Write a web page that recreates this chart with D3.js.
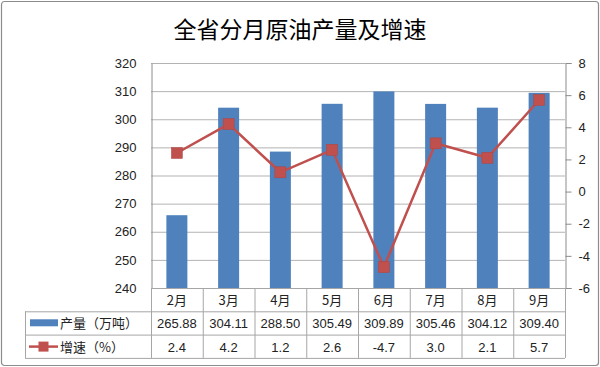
<!DOCTYPE html>
<html><head><meta charset="utf-8">
<script src="https://cdn.jsdelivr.net/npm/d3@7"></script>
<style>body{margin:0;background:#fff;font-family:"Noto Sans CJK SC","DejaVu Sans",sans-serif;}</style>
</head><body><svg id="c" width="600" height="367"></svg>
<script>
const categories = ["2月","3月","4月","5月","6月","7月","8月","9月"];
const output = [265.88,304.11,288.50,305.49,309.89,305.46,304.12,309.40];
const outputLabels = ["265.88","304.11","288.50","305.49","309.89","305.46","304.12","309.40"];
const growth = [2.4,4.2,1.2,2.6,-4.7,3.0,2.1,5.7];
const growthLabels = ["2.4","4.2","1.2","2.6","-4.7","3.0","2.1","5.7"];
const leftTicks = [240,250,260,270,280,290,300,310,320];
const rightTicks = [-6,-4,-2,0,2,4,6,8];
const title = "全省分月原油产量及增速";
const seriesNames = ["产量（万吨）","增速（%）"];

const svg = d3.select("#c");
const blue = "#4F81BD", red = "#C0504D";
const L = 151, R = 565, T = 63, B = 288;
const tableLeft = 25, rowH = 23.3;

svg.append("rect").attr("x",1.5).attr("y",1.5).attr("width",597).attr("height",364)
  .attr("rx",3).attr("fill","#fff").attr("stroke","#8c8c8c").attr("stroke-width",1.2);

svg.append("text").attr("x",300).attr("y",38).attr("text-anchor","middle")
  .attr("font-size",23).attr("fill","#000").text(title);

const x = d3.scaleBand().domain(categories).range([L,R]);
const yL = d3.scaleLinear().domain([240,320]).range([B,T]);
const yR = d3.scaleLinear().domain([-6,8]).range([B,T]);

// gridlines
svg.append("g").selectAll("line").data(leftTicks).join("line")
  .attr("x1",L).attr("x2",R).attr("y1",d=>yL(d)+0.5).attr("y2",d=>yL(d)+0.5)
  .attr("stroke","#b3b3b3").attr("stroke-width",1);

// left axis
const gl = svg.append("g").attr("transform",`translate(${L+0.5},0)`)
  .call(d3.axisLeft(yL).tickValues(leftTicks).tickSize(0).tickPadding(15));
gl.select(".domain").attr("stroke","#8c8c8c");
gl.selectAll("text").attr("font-size",13).attr("fill","#222").attr("font-family","Liberation Sans, Arial, sans-serif");

// right axis
const gr = svg.append("g").attr("transform",`translate(${R+0.5},0)`)
  .call(d3.axisRight(yR).tickValues(rightTicks).tickFormat(d=>String(d)).tickSize(6).tickPadding(7));
gr.select(".domain").attr("stroke","#8c8c8c");
gr.selectAll(".tick line").attr("stroke","#8c8c8c");
gr.selectAll("text").attr("font-size",13).attr("fill","#222").attr("font-family","Liberation Sans, Arial, sans-serif");

// bars
const bw = 21;
svg.append("g").selectAll("rect").data(output).join("rect")
  .attr("x",(d,i)=>x(categories[i])+x.bandwidth()/2-bw/2)
  .attr("width",bw).attr("y",d=>yL(d)).attr("height",d=>B-yL(d))
  .attr("fill",blue);

// line
const line = d3.line().x((d,i)=>x(categories[i])+x.bandwidth()/2).y(d=>yR(d));
svg.append("path").datum(growth).attr("d",line).attr("fill","none")
  .attr("stroke",red).attr("stroke-width",2.5);
svg.append("g").selectAll("rect").data(growth).join("rect")
  .attr("x",(d,i)=>x(categories[i])+x.bandwidth()/2-5.5).attr("y",d=>yR(d)-5.5)
  .attr("width",11).attr("height",11).attr("fill",red).attr("stroke","#b04440").attr("stroke-width",0.5);

// table
const tg = svg.append("g");
const gridC = "#a6a6a6";
const r1 = B, r2 = B+rowH, r3 = B+2*rowH, r4 = B+3*rowH;
[[L,r1],[tableLeft,r2],[tableLeft,r3],[tableLeft,r4]].forEach(([x0,yy])=>{
  tg.append("line").attr("x1",x0).attr("x2",R).attr("y1",yy+0.5).attr("y2",yy+0.5).attr("stroke",gridC);
});
const vx = categories.map(c=>x(c)).concat([R]);
vx.forEach(v=>{
  tg.append("line").attr("x1",v+0.5).attr("x2",v+0.5).attr("y1",r1).attr("y2",r4).attr("stroke",gridC);
});
tg.append("line").attr("x1",tableLeft+0.5).attr("x2",tableLeft+0.5).attr("y1",r2).attr("y2",r4).attr("stroke",gridC);

const tf = "Liberation Sans, Arial, sans-serif";
tg.selectAll("text.cat").data(categories).join("text").attr("class","cat")
  .attr("x",d=>x(d)+x.bandwidth()/2).attr("y",r1+17).attr("text-anchor","middle")
  .attr("font-size",13).attr("fill","#222").text(d=>d);
tg.selectAll("text.v1").data(outputLabels).join("text").attr("class","v1")
  .attr("x",(d,i)=>x(categories[i])+x.bandwidth()/2).attr("y",r2+17).attr("text-anchor","middle")
  .attr("font-size",13).attr("font-family",tf).attr("fill","#222").text(d=>d);
tg.selectAll("text.v2").data(growthLabels).join("text").attr("class","v2")
  .attr("x",(d,i)=>x(categories[i])+x.bandwidth()/2).attr("y",r3+17).attr("text-anchor","middle")
  .attr("font-size",13).attr("font-family",tf).attr("fill","#222").text(d=>d);

tg.append("rect").attr("x",30).attr("y",r2+8).attr("width",28).attr("height",7).attr("fill",blue);
tg.append("line").attr("x1",29).attr("x2",58).attr("y1",r3+12).attr("y2",r3+12).attr("stroke",red).attr("stroke-width",2.5);
tg.append("rect").attr("x",38.5).attr("y",r3+7).attr("width",10).attr("height",10).attr("fill",red);
tg.append("text").attr("x",60).attr("y",r2+17).attr("font-size",13).attr("fill","#222").text(seriesNames[0]);
tg.append("text").attr("x",60).attr("y",r3+17).attr("font-size",13).attr("fill","#222").text(seriesNames[1]);
</script></body></html>
